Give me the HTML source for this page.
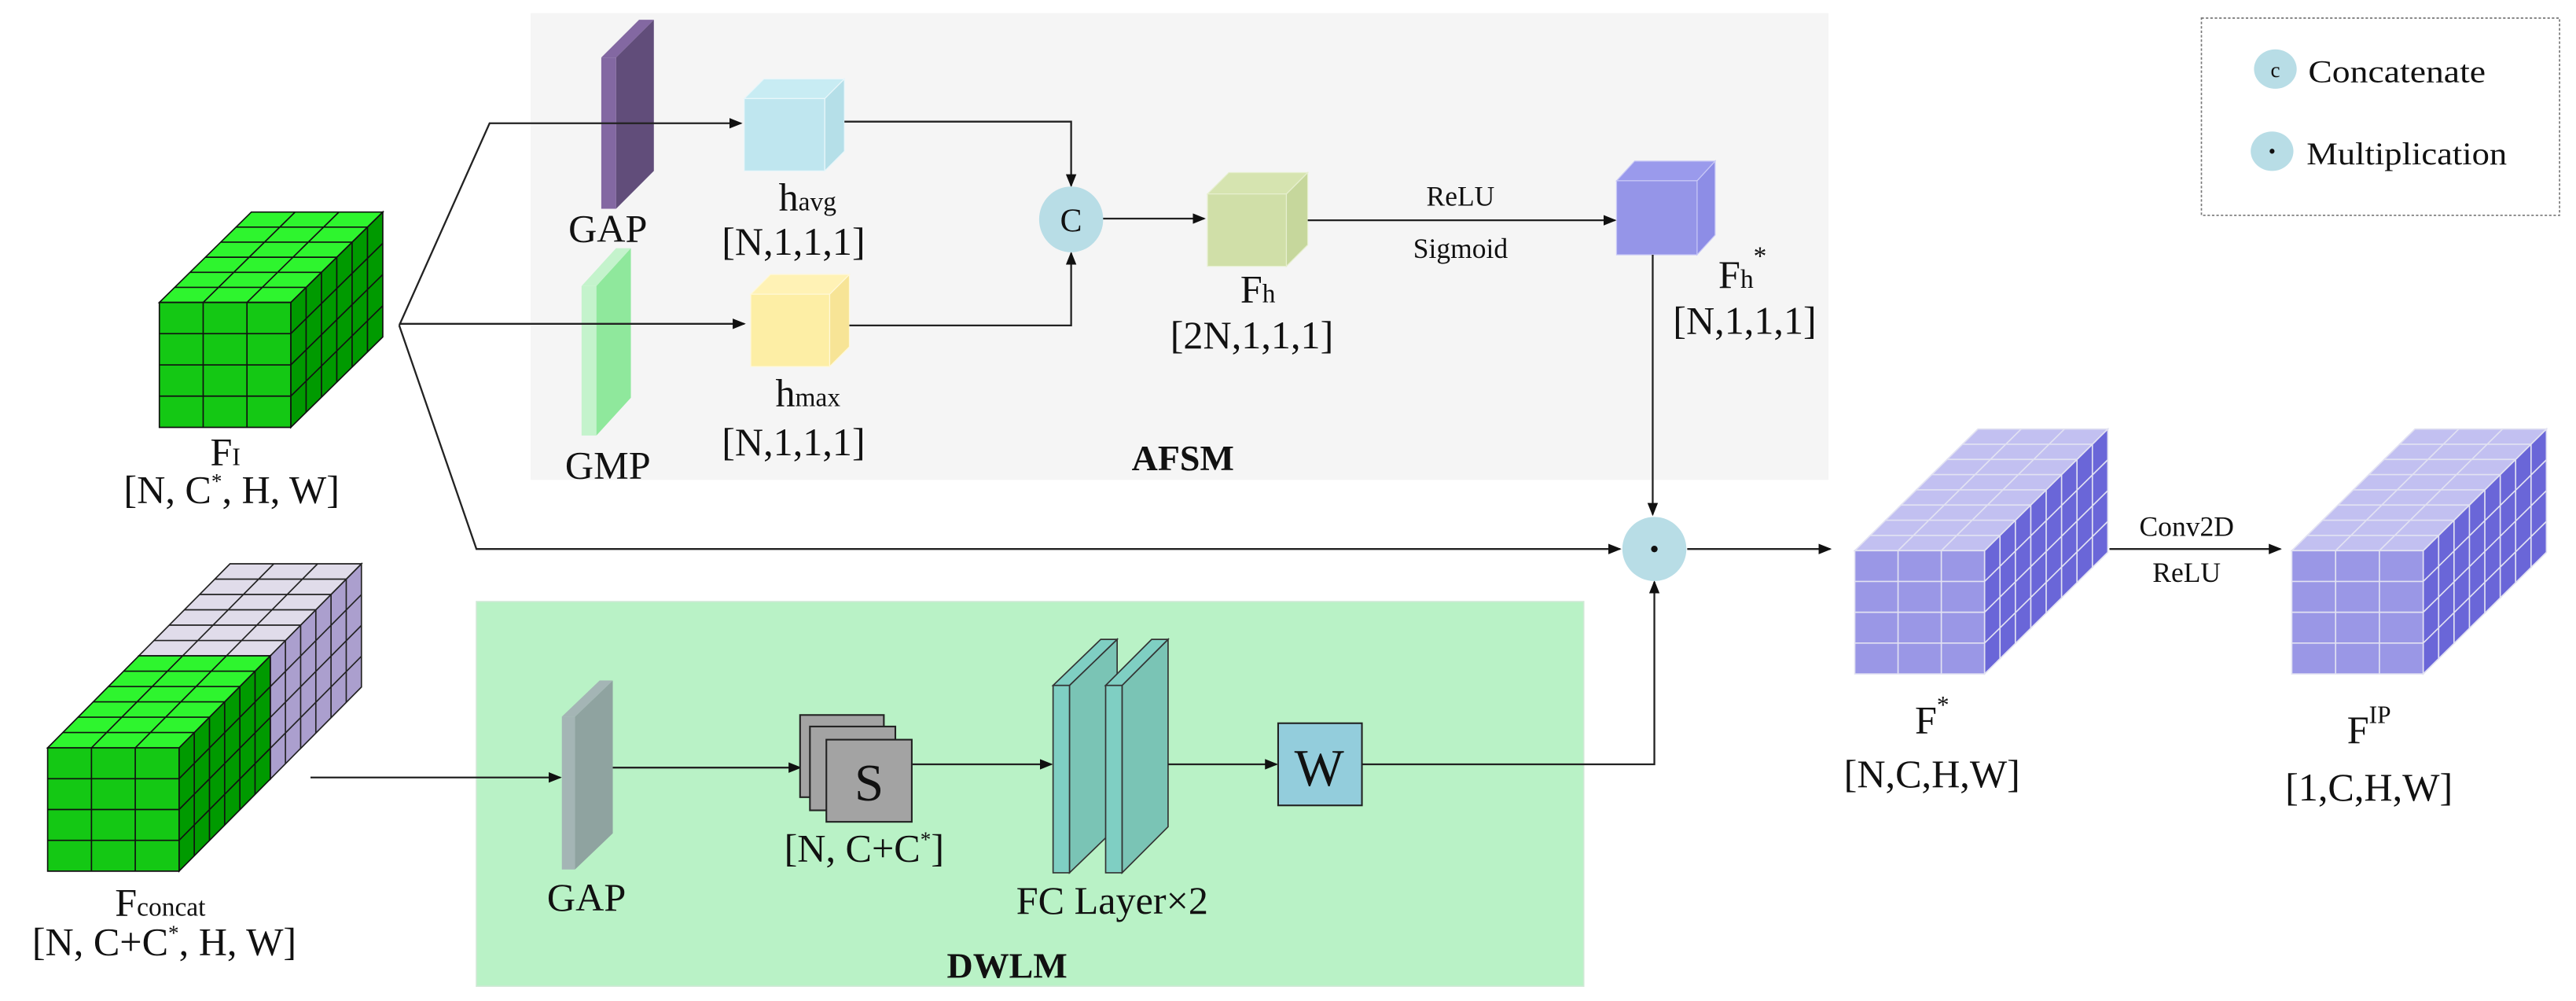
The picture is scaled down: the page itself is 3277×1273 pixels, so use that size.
<!DOCTYPE html>
<html><head><meta charset="utf-8">
<style>
html,body{margin:0;padding:0;background:#fff;}
svg{display:block;}
svg text{font-family:"Liberation Serif","DejaVu Serif",serif !important;fill:#111;}
</style></head>
<body>
<svg id="s" width="3277" height="1273" viewBox="0 0 1568 609" preserveAspectRatio="none" xmlns="http://www.w3.org/2000/svg" font-family="Liberation Serif, DejaVu Serif, serif">
<defs>
<marker id="a" markerWidth="8" markerHeight="8" refX="7" refY="4" orient="auto" markerUnits="userSpaceOnUse">
<path d="M0,0.8 L8,4 L0,7.2 z" fill="#111"/></marker>
</defs>
<rect x="323" y="8" width="790" height="284" fill="#f5f5f5"/>
<rect x="290" y="366" width="674" height="234" fill="#b9f2c6" stroke="#cfe9d5" stroke-width="0.8"/>
<rect x="1340" y="11" width="218" height="120" fill="none" stroke="#777" stroke-width="0.8" stroke-dasharray="1.5,1.2"/>
<ellipse cx="1385" cy="42" rx="13" ry="12" fill="#b8dde6"/>
<text x="1385" y="47" font-size="13" text-anchor="middle">c</text>
<text x="1405" y="50" font-size="19" textLength="108" lengthAdjust="spacingAndGlyphs">Concatenate</text>
<ellipse cx="1383" cy="92" rx="13" ry="12" fill="#b8dde6"/>
<circle cx="1383" cy="92" r="1.5" fill="#111"/>
<text x="1404" y="100" font-size="19" textLength="122" lengthAdjust="spacingAndGlyphs">Multiplication</text>

<g id="g"></g>

<g fill="none" stroke="#222" stroke-width="1.1">
<polyline points="243,198 298,75 451,75" marker-end="url(#a)"/>
<polyline points="243,197 453,197" marker-end="url(#a)"/>
<polyline points="243,198 290,334 986,334" marker-end="url(#a)"/>
<polyline points="514,74 652,74 652,113" marker-end="url(#a)"/>
<polyline points="517,198 652,198 652,154" marker-end="url(#a)"/>
<line x1="671" y1="133" x2="733" y2="133" marker-end="url(#a)"/>
<line x1="796" y1="134" x2="983" y2="134" marker-end="url(#a)"/>
<polyline points="1006,155 1006,313" marker-end="url(#a)"/>
<line x1="1027" y1="334" x2="1114" y2="334" marker-end="url(#a)"/>
<line x1="1284" y1="334" x2="1388" y2="334" marker-end="url(#a)"/>
<line x1="189" y1="473" x2="341" y2="473" marker-end="url(#a)"/>
<line x1="373" y1="467" x2="487" y2="467" marker-end="url(#a)"/>
<line x1="555" y1="465" x2="640" y2="465" marker-end="url(#a)"/>
<line x1="711" y1="465" x2="777" y2="465" marker-end="url(#a)"/>
<polyline points="829,465 1007,465 1007,354" marker-end="url(#a)"/>
</g>
<ellipse cx="652" cy="133.5" rx="19.5" ry="20" fill="#b8dde6"/>
<text x="652" y="141" font-size="20" text-anchor="middle">C</text>
<ellipse cx="1007" cy="334" rx="19.5" ry="19.5" fill="#b8dde6"/>
<circle cx="1007" cy="334" r="2" fill="#111"/>

<rect x="487" y="435" width="51" height="50" fill="#a3a3a3" stroke="#222" stroke-width="1"/>
<rect x="493" y="442" width="52" height="51" fill="#a3a3a3" stroke="#222" stroke-width="1"/>
<rect x="503" y="450" width="52" height="50" fill="#a3a3a3" stroke="#222" stroke-width="1"/>
<text x="529" y="487" font-size="32" text-anchor="middle">S</text>
<rect x="778" y="440" width="51" height="50" fill="#93cddc" stroke="#222" stroke-width="1"/>
<text x="803" y="478" font-size="32" text-anchor="middle">W</text>

<g font-size="24">
<text x="370" y="147" text-anchor="middle">GAP</text>
<text x="370" y="291" text-anchor="middle">GMP</text>
<text x="474" y="128">h<tspan font-size="16">avg</tspan></text>
<text x="483" y="155" text-anchor="middle">[N,1,1,1]</text>
<text x="472" y="247">h<tspan font-size="16">max</tspan></text>
<text x="483" y="277" text-anchor="middle">[N,1,1,1]</text>
<text x="755" y="184">F<tspan font-size="16">h</tspan></text>
<text x="762" y="212" text-anchor="middle">[2N,1,1,1]</text>
<text x="1046" y="175">F<tspan font-size="16">h</tspan><tspan font-size="16" dy="-14">*</tspan></text>
<text x="1062" y="203" text-anchor="middle">[N,1,1,1]</text>
<text x="128" y="283">F<tspan font-size="15">I</tspan></text>
<text x="141" y="306" text-anchor="middle">[N, C<tspan font-size="13" dy="-9">*</tspan><tspan dy="9">, H, W]</tspan></text>
<text x="70" y="557">F<tspan font-size="16">concat</tspan></text>
<text x="100" y="581" text-anchor="middle">[N, C+C<tspan font-size="13" dy="-9">*</tspan><tspan dy="9">, H, W]</tspan></text>
<text x="357" y="554" text-anchor="middle">GAP</text>
<text x="526" y="524" text-anchor="middle">[N, C+C<tspan font-size="13" dy="-9">*</tspan><tspan dy="9">]</tspan></text>
<text x="677" y="556" text-anchor="middle">FC Layer×2</text>
<text x="1176" y="446" text-anchor="middle">F<tspan font-size="15" dy="-12">*</tspan></text>
<text x="1176" y="479" text-anchor="middle">[N,C,H,W]</text>
<text x="1442" y="452" text-anchor="middle">F<tspan font-size="15" dy="-12">IP</tspan></text>
<text x="1442" y="487" text-anchor="middle">[1,C,H,W]</text>
</g>
<text x="720" y="286" font-size="22" font-weight="bold" text-anchor="middle">AFSM</text>
<text x="613" y="595" font-size="22" font-weight="bold" text-anchor="middle">DWLM</text>
<text x="889" y="125" font-size="17" text-anchor="middle">ReLU</text>
<text x="889" y="157" font-size="17" text-anchor="middle">Sigmoid</text>
<text x="1331" y="326" font-size="17" text-anchor="middle">Conv2D</text>
<text x="1331" y="354" font-size="17" text-anchor="middle">ReLU</text>
</svg>
<script>
var g=document.getElementById('g'),out='';
function P(pts,f,s,w){out+='<polygon points="'+pts.map(function(p){return p[0].toFixed(2)+','+p[1].toFixed(2)}).join(' ')+'" fill="'+f+'" stroke="'+(s||'none')+'" stroke-width="'+(w||0)+'"/>';}
function L(a,b,s,w){out+='<line x1="'+a[0].toFixed(2)+'" y1="'+a[1].toFixed(2)+'" x2="'+b[0].toFixed(2)+'" y2="'+b[1].toFixed(2)+'" stroke="'+s+'" stroke-width="'+w+'"/>';}
function cube(x,y,w,h,dx,dy,cols,rows,dep,cf,ct,cs,lc,lw){
  P([[x+w,y],[x+w+dx,y+dy],[x+w+dx,y+h+dy],[x+w,y+h]],cs,lc,lw);
  P([[x,y],[x+w,y],[x+w+dx,y+dy],[x+dx,y+dy]],ct,lc,lw);
  P([[x,y],[x+w,y],[x+w,y+h],[x,y+h]],cf,lc,lw);
  if(!cols)return;
  for(var i=1;i<cols;i++){var xx=x+w*i/cols;L([xx,y],[xx,y+h],lc,lw);L([xx,y],[xx+dx,y+dy],lc,lw);}
  for(var j=1;j<rows;j++){var yy=y+h*j/rows;L([x,yy],[x+w,yy],lc,lw);L([x+w,yy],[x+w+dx,yy+dy],lc,lw);}
  for(var k=1;k<dep;k++){var ox=dx*k/dep,oy=dy*k/dep;L([x+ox,y+oy],[x+w+ox,y+oy],lc,lw);L([x+w+ox,y+oy],[x+w+ox,y+h+oy],lc,lw);}
}
function plate(x,y,w,h,dx,dy,cf,cs,st){
  P([[x+w,y],[x+w+dx,y+dy],[x+w+dx,y+h+dy],[x+w,y+h]],cs,st||'none',st?0.8:0);
  P([[x,y],[x+w,y],[x+w+dx,y+dy],[x+dx,y+dy]],cf,st||'none',st?0.8:0);
  P([[x,y],[x+w,y],[x+w,y+h],[x,y+h]],cf,st||'none',st?0.8:0);
}
cube(97,184,80,76,56,-55,3,4,6,'#14c814','#2ef52e','#009a00','#111',0.8);
cube(84.5,399,80,75,55.5,-56,3,4,6,'#e6e2ee','#e0dcea','#ab9fce','#222',0.8);
cube(29,455,80,75,55.5,-56,3,4,6,'#14c814','#2ef52e','#009a00','#111',0.8);
cube(1129,335,79,75,75,-74,3,4,8,'#9a97e6','#c2c0f1','#6a66d8','#e2e2f2',0.8);
cube(1395,335,80,75,75,-74,3,4,8,'#9a97e6','#c2c0f1','#6a66d8','#e2e2f2',0.8);
cube(453,60,49,44,12,-12,0,0,0,'#bfe6ef','#c8ecf3','#b5dfe8','#e8f6fa',0.6);
cube(457,179,48,44,12,-12,0,0,0,'#fdeea5','#fff2b5','#f7e496','#fff8d8',0.6);
cube(735,118,48,44,13,-13,0,0,0,'#d0dfa8','#d6e4b0','#c6d79c','#e6efcf',0.6);
cube(984,110,49,45,11,-12,0,0,0,'#9595e8','#9a9aec','#8d8de6','#c8c8f6',0.6);
plate(366,35,9,92,23,-23,'#8368a2','#614d7a');
plate(354,174,9,91,21,-23,'#c4f3cc','#8fe89c');
plate(342,436,8,93,23,-22,'#a4b5b5','#8fa3a0');
plate(641,417,10,114,29,-28,'#7fcfc3','#7ac4b5','#333');
plate(673,417,10,114,28,-28,'#7fcfc3','#7ac4b5','#333');
g.innerHTML=out;
</script>
</body></html>
